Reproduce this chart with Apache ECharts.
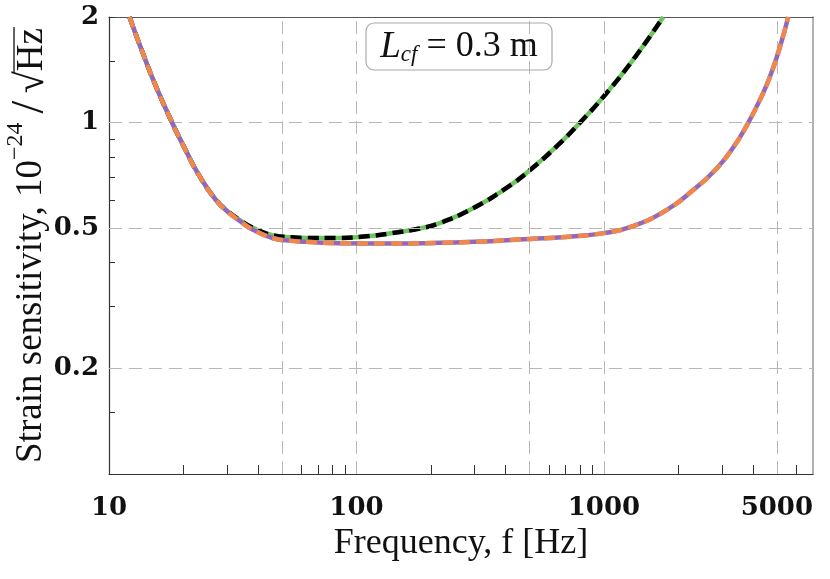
<!DOCTYPE html>
<html><head><meta charset="utf-8">
<script src="https://cdn.jsdelivr.net/npm/echarts@6/dist/echarts.min.js"></script>
<style>html,body{margin:0;padding:0;background:#fff}#c{width:830px;height:579px}</style>
</head><body><div id="c"></div>
<script>
// Frequencies (Hz) and strain sensitivity (1e-24 / sqrt(Hz))
const freqLower = [12.1, 13.6, 15.4, 18.0, 20.4, 23.1, 27.0, 30.0, 33.8, 38.0, 46.1, 55.0, 62.8, 85.7, 136, 217, 300, 500, 700, 1000, 1312, 1789, 2295, 2851, 3331, 3772, 4270, 4688, 5142, 5558];
const sensLower = [2.0, 1.60, 1.28, 1.0, 0.836, 0.709, 0.603, 0.560, 0.525, 0.497, 0.469, 0.461, 0.458, 0.454, 0.453, 0.455, 0.458, 0.467, 0.473, 0.485, 0.508, 0.564, 0.643, 0.740, 0.850, 0.980, 1.161, 1.352, 1.640, 2.0];
const freqUpper = [12.1, 13.6, 15.4, 18.0, 20.4, 23.1, 27.0, 30.0, 33.8, 38.0, 46.1, 55.0, 62.8, 85.7, 110, 136, 180, 217, 296, 404, 500, 644, 800, 1000, 1312, 1738];
const sensUpper = [2.0, 1.60, 1.28, 1.0, 0.836, 0.709, 0.604, 0.562, 0.528, 0.503, 0.478, 0.472, 0.470, 0.470, 0.475, 0.484, 0.500, 0.518, 0.571, 0.652, 0.731, 0.856, 1.0, 1.19, 1.51, 2.0];

const xTickValues = [20, 30, 40, 50, 60, 70, 80, 90, 100, 200, 300, 400, 500, 600, 700, 800, 900, 1000, 2000, 3000, 4000, 5000, 6000];
const xLabelValues = [10, 100, 1000, 5000];
const yTickValues = [0.15, 0.2, 0.3, 0.4, 0.5, 0.6, 0.7, 0.8, 0.9, 1, 1.5, 2];
const yLabelValues = [0.2, 0.5, 1, 2];
const xGridValues = [50, 100, 500, 1000, 5000];
const yGridValues = [0.2, 0.5, 1];

const zip = (xs, ys) => xs.map((x, i) => [x, ys[i]]);
const fmt = v => String(+(+v).toPrecision(6));
const serif = '"DejaVu Serif", "Liberation Serif", serif';
const tnr = '"Liberation Serif", "DejaVu Serif", serif';

// ---- y axis title laid out as pieces (for superscript and radical overline)
const mctx = document.createElement('canvas').getContext('2d');
function tw(text, size) { mctx.font = size + 'px "Liberation Serif"'; return mctx.measureText(text).width; }
const yTitle = [
  {t: 'Strain sensitivity, 10', s: 37, dy: 0},
  {t: '−24', s: 24, dy: -15},
  {t: ' ', s: 36, dy: 0},
  {t: '/', s: 46, dy: 0},
  {t: ' ', s: 30, dy: 0},
  {t: '√', s: 40, dy: 1},
  {t: 'Hz', s: 37, dy: 1, over: true}
];
const titleW = yTitle.reduce((a, p) => a + tw(p.t, p.s), 0);
const titleChildren = [];
let cx = -titleW / 2;
yTitle.forEach(p => {
  const w = tw(p.t, p.s);
  titleChildren.push({type: 'text', x: cx, y: p.dy,
    style: {text: p.t, font: p.s + 'px "Liberation Serif"', fill: '#111', align: 'left', verticalAlign: 'middle'}});
  if (p.over) {
    titleChildren.push({type: 'line', shape: {x1: cx - 2, y1: -17, x2: cx + w + 1, y2: -17},
      style: {stroke: '#111', lineWidth: 1.3}});
  }
  cx += w;
});

const chart = echarts.init(document.getElementById('c'), null, {renderer: 'canvas'});
const gridDash = {color: '#b8b8b8', width: 1, type: [13, 7]};
const smoothV = 0.5;

chart.setOption({
  animation: false,
  backgroundColor: '#fff',
  grid: {left: 109, top: 17, right: 17, bottom: 105, containLabel: false, outerBoundsMode: 'none'},
  xAxis: [{
    type: 'log', logBase: 10, min: 10, max: 7000,
    axisLine: {show: true, onZero: false, lineStyle: {color: '#333', width: 1.2}},
    axisTick: {show: true, inside: true, length: 9, customValues: xTickValues, lineStyle: {color: '#333', width: 1}},
    axisLabel: {customValues: xLabelValues, formatter: fmt, margin: 21, fontFamily: serif, fontWeight: 'bold', fontSize: 26, color: '#111'},
    splitLine: {show: false}, minorTick: {show: false}, minorSplitLine: {show: false},
    name: 'Frequency, f [Hz]', nameLocation: 'middle', nameGap: 43,
    nameTextStyle: {fontFamily: tnr, fontSize: 36, color: '#111'}
  }, {
    type: 'log', logBase: 10, min: 10, max: 7000, position: 'top',
    axisLine: {show: true, onZero: false, lineStyle: {color: '#555', width: 1.2}},
    axisTick: {show: false}, axisLabel: {show: false}, splitLine: {show: false}
  }],
  yAxis: [{
    type: 'log', logBase: 10, min: 0.1, max: 2,
    axisLine: {show: true, onZero: false, lineStyle: {color: '#333', width: 1.2}},
    axisTick: {show: true, inside: true, length: 6, customValues: yTickValues, lineStyle: {color: '#333', width: 1}},
    axisLabel: {customValues: yLabelValues, formatter: fmt, margin: 10, fontFamily: serif, fontWeight: 'bold', fontSize: 26, color: '#111'},
    splitLine: {show: false}, minorTick: {show: false}, minorSplitLine: {show: false}
  }, {
    type: 'log', logBase: 10, min: 0.1, max: 2, position: 'right',
    axisLine: {show: true, onZero: false, lineStyle: {color: '#999', width: 1.5}},
    axisTick: {show: false}, axisLabel: {show: false}, splitLine: {show: false}
  }],
  series: [
    {
      name: 'grid', type: 'line', data: [], z: 1, silent: true,
      markLine: {
        silent: true, symbol: ['none', 'none'], label: {show: false},
        lineStyle: gridDash, animation: false,
        data: xGridValues.map(v => ({xAxis: v})).concat(yGridValues.map(v => ({yAxis: v})))
      }
    },
    {name: 'upper solid', type: 'line', data: zip(freqUpper, sensUpper), showSymbol: false, smooth: smoothV, z: 3,
      lineStyle: {color: '#6cc85c', width: 4.5}},
    {name: 'upper dashed', type: 'line', data: zip(freqUpper, sensUpper), showSymbol: false, smooth: smoothV, z: 4,
      lineStyle: {color: '#000', width: 4.5, type: [11, 6]}},
    {name: 'lower solid', type: 'line', data: zip(freqLower, sensLower), showSymbol: false, smooth: smoothV, z: 5,
      lineStyle: {color: '#9268bd', width: 4.5}},
    {name: 'lower dashed', type: 'line', data: zip(freqLower, sensLower), showSymbol: false, smooth: smoothV, z: 6,
      lineStyle: {color: '#f0874b', width: 4.5, type: [11, 6]}}
  ],
  graphic: [
    {type: 'group', x: 31, y: 245.5, rotation: Math.PI / 2, children: titleChildren},
    {type: 'rect', shape: {x: 366, y: 23, width: 186, height: 47, r: 8}, z: 10,
      style: {fill: 'none', stroke: '#aaa', lineWidth: 1.2}},
    {type: 'text', x: 459, y: 47, z: 11,
      style: {text: '{it|L}{sub|cf}{n| = 0.3 m}', align: 'center', verticalAlign: 'middle',
        rich: {
          it: {fontFamily: tnr, fontStyle: 'italic', fontSize: 37, fill: '#111'},
          sub: {fontFamily: tnr, fontStyle: 'italic', fontSize: 23, fill: '#111', verticalAlign: 'bottom', padding: [16, 0, 0, 0]},
          n: {fontFamily: tnr, fontSize: 36, fill: '#111'}
        }}}
  ]
});
</script></body></html>
